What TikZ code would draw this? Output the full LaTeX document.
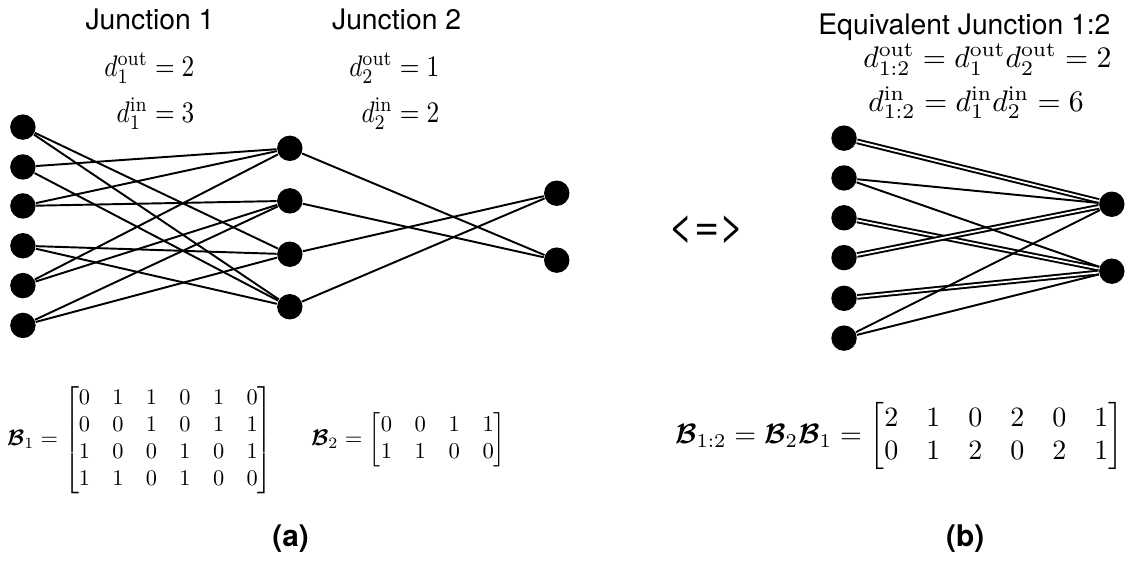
\documentclass[tikz,border=0pt]{standalone}
\usepackage{fix-cm}
\usepackage{amsmath,amssymb}
\usepackage{fontspec}
\setsansfont{TeX Gyre Heros}
\usepackage{tikz}
\usetikzlibrary{backgrounds}
\newcommand{\Bmat}{\boldsymbol{\mathcal{B}}}

\begin{document}
\begin{tikzpicture}[
  dot/.style={circle, fill=black, minimum size=0.3cm, inner sep=0pt},
  wire/.style={line width=0.65pt},
  twin/.style={line width=0.65pt, double, double distance=0.6pt},
  title/.style={font=\sffamily\fontsize{9.5}{11}\selectfont, anchor=base},
  deg/.style={inner sep=0pt, font=\fontsize{10}{12}\selectfont},
  narrow/.style={xscale=0.85, transform shape}
]
  \useasboundingbox (0,0) rectangle (13.37,-6.64);

  %% -- Headings
  \node[title] (t1)  at (1.77,-0.354)  {Junction 1};
  \node[title] (t2)  at (4.68,-0.354)  {Junction 2};
  \node[title] (t12) at (11.38,-0.413) {Equivalent Junction 1:2};

  %% Degrees
  \node[deg, narrow, anchor=base east] (d1o) at (2.30,-0.897) {$d_1^{\mathrm{out}} = 2$};
  \node[deg, narrow, anchor=base east] (d1i) at (2.30,-1.44)  {$d_1^{\mathrm{in}} = 3$};
  \node[deg, narrow, anchor=base east] (d2o) at (5.19,-0.897) {$d_2^{\mathrm{out}} = 1$};
  \node[deg, narrow, anchor=base east] (d2i) at (5.19,-1.44)  {$d_2^{\mathrm{in}} = 2$};
  \node[deg, anchor=base west] (d12o) at (10.18,-0.80)
    {$d_{1:2}^{\mathrm{out}} = d_1^{\mathrm{out}} d_2^{\mathrm{out}} = 2$};
  \node[deg, anchor=base west] (d12i) at (10.24,-1.31)
    {$d_{1:2}^{\mathrm{in}} = d_1^{\mathrm{in}} d_2^{\mathrm{in}} = 6$};

  %% -- Junction 1 inputs
  \node[dot] (a1) at (0.27,-1.50) {};
  \node[dot] (a2) at (0.27,-1.97) {};
  \node[dot] (a3) at (0.27,-2.43) {};
  \node[dot] (a4) at (0.27,-2.90) {};
  \node[dot] (a5) at (0.27,-3.37) {};
  \node[dot] (a6) at (0.27,-3.84) {};

  %% Junction 1 outputs = Junction 2 inputs
  \node[dot] (m1) at (3.42,-1.75) {};
  \node[dot] (m2) at (3.42,-2.37) {};
  \node[dot] (m3) at (3.42,-3.00) {};
  \node[dot] (m4) at (3.42,-3.62) {};

  %% Junction 2 outputs
  \node[dot] (o1) at (6.57,-2.28) {};
  \node[dot] (o2) at (6.57,-3.07) {};

  %% Junction 1 wiring
  \draw[wire] (a1) -- (m3);
  \draw[wire] (a1) -- (m4);
  \draw[wire] (a2) -- (m1);
  \draw[wire] (a2) -- (m4);
  \draw[wire] (a3) -- (m1);
  \draw[wire] (a3) -- (m2);
  \draw[wire] (a4) -- (m3);
  \draw[wire] (a4) -- (m4);
  \draw[wire] (a5) -- (m1);
  \draw[wire] (a5) -- (m2);
  \draw[wire] (a6) -- (m2);
  \draw[wire] (a6) -- (m3);

  %% Junction 2 wiring
  \draw[wire] (m1) -- (o2);
  \draw[wire] (m2) -- (o2);
  \draw[wire] (m3) -- (o1);
  \draw[wire] (m4) -- (o1);

  %% -- Equivalent junction
  \node[dot] (e1) at (9.96,-1.63) {};
  \node[dot] (e2) at (9.96,-2.10) {};
  \node[dot] (e3) at (9.96,-2.57) {};
  \node[dot] (e4) at (9.96,-3.04) {};
  \node[dot] (e5) at (9.96,-3.52) {};
  \node[dot] (e6) at (9.96,-3.99) {};
  \node[dot] (f1) at (13.12,-2.41) {};
  \node[dot] (f2) at (13.12,-3.20) {};

  %% doubled paths first, single ones on top
  \draw[twin] (e1) -- (f1);
  \draw[twin] (e3) -- (f2);
  \draw[twin] (e4) -- (f1);
  \draw[twin] (e5) -- (f2);
  \draw[wire] (e2) -- (f1);
  \draw[wire] (e2) -- (f2);
  \draw[wire] (e6) -- (f1);
  \draw[wire] (e6) -- (f2);

  \node[font=\sffamily\fontsize{14.5}{16}\selectfont] (iff) at (8.34,-2.71) {<=>};

  %% -- Matrices
  \node[scale=0.75, transform shape] (b1) at (1.65,-5.19)
    {$\Bmat_1 = \begin{bmatrix} 0&1&1&0&1&0\\ 0&0&1&0&1&1\\ 1&0&0&1&0&1\\ 1&1&0&1&0&0 \end{bmatrix}$};
  \node[scale=0.76, transform shape] (b2) at (4.82,-5.19)
    {$\Bmat_2 = \begin{bmatrix} 0&0&1&1\\ 1&1&0&0 \end{bmatrix}$};
  \node[scale=0.94, transform shape] (b12) at (10.61,-5.15)
    {$\Bmat_{1:2} = \Bmat_2\Bmat_1 = \begin{bmatrix} 2&1&0&2&0&1\\ 0&1&2&0&2&1 \end{bmatrix}$};

  %% Panel tags
  \node[font=\sffamily\bfseries\fontsize{10}{12}\selectfont] (pa) at (3.43,-6.36)  {(a)};
  \node[font=\sffamily\bfseries\fontsize{10}{12}\selectfont] (pb) at (11.39,-6.36) {(b)};

\end{tikzpicture}
\end{document}
